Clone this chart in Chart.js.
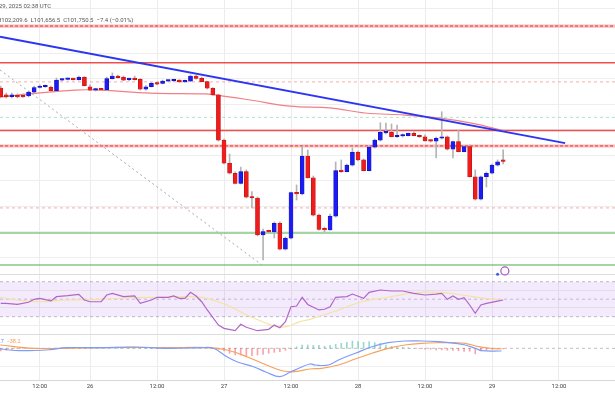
<!DOCTYPE html>
<html>
<head>
<meta charset="utf-8">
<script src="https://cdn.jsdelivr.net/npm/chart.js@4.4.1/dist/chart.umd.min.js"></script>
<style>
  html, body { margin: 0; padding: 0; background: #fff; }
  #wrap { position: relative; width: 615px; height: 410px; overflow: hidden; font-family: Roboto, "Noto Sans", sans-serif; }
  #wrap canvas { position: absolute; left: 0; top: 0; }
  .txt { position: absolute; white-space: nowrap; color: #555; line-height: 1; }
</style>
</head>
<body>
<div id="wrap">
  <canvas id="c" width="615" height="410"></canvas>
  <div class="txt" style="left:-1px;top:3px;font-size:6px">29, 2025 02:38 UTC</div>
  <div class="txt" style="left:-3px;top:17px;font-size:6px">H102,209.6&nbsp; L101,656.5&nbsp; C101,750.5&nbsp; −7.4 (−0.01%)</div>
  <div class="txt" style="left:-10px;top:339px;font-size:5.5px"><span style="color:#6f8ff0">−39.7</span>&nbsp; <span style="color:#f39a55">−38.2</span></div>
</div>
<script>
// hourly candles, first one is Jan 25 08:00 (hour -16, hour 0 = Jan 26 00:00)
const firstHour = -16;
const openP = [104630,104360,104290,104340,104340,104320,104470,104650,104680,104660,104530,104940,104970,104980,104960,105050,
  104680,104550,104570,104560,105000,105100,105050,104960,104975,104970,104580,104680,104810,104810,104900,104915,104940,104870,104900,105100,105010,104880,104620,104360,
  102590,101680,101290,100890,101350,100350,100320,98870,99000,98990,99330,98310,98740,100530,100480,101960,101110,99650,99090,99070,99610,101390,101350,101610,102110,101810,101390,102310,102590,102870,102890,102720,102750,102760,102855,102760,102720,102570,102550,102660,102720,102230,102530,102130,102330,101150,100270,101150,101290,101610,101758];
const highP = [104710,104430,104430,104400,104400,104510,104710,104750,104750,104710,105020,105000,105020,105020,105100,105080,
  104750,104610,104610,105060,105220,105140,105100,105020,105100,105000,104730,104850,104850,104940,104940,104980,104960,104940,105140,105140,105060,104900,104650,104380,
  102630,102040,101340,101530,101420,100570,100360,99100,99060,99380,99380,98790,100550,100830,102330,102200,101180,99690,99180,99690,101730,101810,101650,102280,102160,101850,102360,102630,103270,103260,103220,103180,102830,102865,102910,102790,102790,102590,102710,103700,102750,102550,102980,102360,102400,101420,101180,101340,101650,101810,102210];
const lowP = [104240,104240,104240,104240,104260,104280,104430,104630,104650,104510,104510,104920,104940,104940,104940,104710,
  104530,104510,104530,104530,104980,105020,104920,104920,104940,104550,104550,104670,104750,104790,104880,104880,104850,104850,104880,104980,104870,104590,104340,102550,
  101650,101260,100870,100870,100320,99930,98830,97890,98950,98750,98280,98280,98710,100240,100440,101100,99610,99060,98990,99060,99570,101320,101340,101570,101770,101380,101380,102280,102550,102830,102710,102690,102710,102750,102750,102690,102550,102510,101890,102630,102200,101890,102120,102120,101140,100240,100240,100750,101260,101570,101657];
const closeP = [104280,104280,104360,104280,104280,104470,104650,104710,104710,104530,104940,104970,104980,104960,105050,104720,
  104550,104570,104560,105000,105100,105040,104940,104975,104960,104580,104680,104810,104780,104900,104915,104940,104870,104900,105100,105010,104880,104620,104360,102590,
  101680,101290,100890,101350,100350,100320,98870,99000,98990,99330,98310,98740,100530,100480,101960,101110,99650,99090,99070,99610,101390,101350,101610,102110,101810,101390,102310,102590,102890,102890,102720,102750,102760,102855,102760,102720,102560,102550,102660,102720,102230,102530,102130,102330,101150,100270,101150,101290,101610,101740,101751];

// 100-hour style moving average on price
const maHours = [-16.1,-10.8,-2.7,1.8,10.8,20.6,22.4,28.7,35.8,43,49.3,56.4,62.7,68.1,74.3];
const maValues = [104280,104400,104550,104550,104430,104400,104360,104160,103920,103850,103650,103570,103450,103260,102950];

// drawn levels and lines
const redSolidLevels = [105620, 102960];
const redStrongDashLevels = [107060, 102360];
const redLightDashLevels = [104870, 99930];
const greenDashLevels = [103480];
const greenSolidLevels = [98950, 97690];
const trendHours = [-16.12, 85.1];
const trendValues = [106640, 102470];
const diagHours = [-16.12, 30.8];
const diagValues = [105340, 97690];
const markerHour = [74.3];
const markerValue = [97460];
const dotHour = [73.0];
const dotValue = [97330];

// RSI (14) and its moving average
const rsiHours = [-16,-15,-13,-11,-10,-9,-7,-6,-4,-2,-1,0,2,3,4,6,8,9,11,12,14,15,16,17,18,19,20,21,23,24,26,27,28,30,32,33,34,35,36,37,38,39,41,42,43,44,46,47,49,50,52,54,56,58,60,62,63,64,65,66,67,68,69,70,71,73,74];
const rsiValues = [45.3,45.3,44.2,46.5,49.9,51,48,52.9,54,55.6,49.1,47.1,47.1,54.8,56.7,52.9,53.7,45.3,49.1,52.2,52.2,53.7,51,51,57.9,53.7,47.1,37.7,20.5,16.7,14,21.3,17.9,14,15.6,20.5,17.4,24.3,41.4,42.2,52.2,44,37.7,38.5,41.4,52.2,52.9,55.9,51,57.9,60.5,59.4,59.4,56.7,54.8,55.9,56.7,49.9,53.7,49.9,51.7,43.4,33.9,43.4,45.3,47.9,49.1];
const rsiMaHours = [-16.1,-13.1,-9,-4.2,1.8,7.8,13.7,17.9,20.9,24.5,28.1,31.6,33.4,35.2,37.6,39.4,44.5,48.7,53.4,58.2,62.4,66.6,70.7,73.7];
const rsiMaValues = [52.2,49.1,47.1,49.1,49.9,51.7,52.2,52.9,51,43.4,31.9,22.5,18.6,18.6,24.3,27,37.7,47.1,52.2,57.4,57.9,54.8,51,49.1];
const rsiBand = [30, 50, 70];

// MACD (12, 26, 9)
const macdHours = [-16.1,-12.5,-7.2,-4.2,1.8,7.8,13.7,19.7,22.1,24.5,26.3,29.3,31.6,34,35.8,37.6,39.4,40.3,42.7,44.5,47.5,50.5,53.4,56.4,59.4,62.4,65.4,67.2,69,70.2,73.7];
const macdValues = [-14,-48,-28,12,12,26,0,12,0,-168,-268,-368,-480,-568,-480,-388,-314,-334,-334,-234,-100,32,112,146,146,132,100,66,0,-48,-54];
const signalHours = [-16.1,-10.2,1.8,7.8,13.7,20.9,24.5,28.1,31.6,34.6,36.4,39.4,41.5,44.5,47.5,50.5,53.4,56.4,59.4,62.4,65.4,67.2,69.6,71.9,73.7];
const signalValues = [66,0,12,20,12,12,-34,-168,-334,-454,-468,-414,-400,-334,-214,-100,0,66,100,112,112,100,32,0,-14];
const histValues = [-50,-40,-20,-10,0,0,0,0,0,0,0,0,0,0,0,0,
  0,0,0,0,0,0,0,0,0,0,0,0,0,0,0,0,0,0,0,0,0,0,0,-20,
  -50,-100,-130,-135,-165,-145,-135,-120,-100,-80,-65,-40,-10,30,65,66,60,60,40,60,80,100,120,146,134,120,134,114,100,66,40,20,20,10,0,-5,-15,-20,-30,-30,-40,-40,-50,-60,-60,-110,-50,-30,-20,-15,-10];

const tickHours = [-9, 0, 12, 24, 36, 48, 60, 72, 84];
const tickLabels = ['12:00', '26', '12:00', '27', '12:00', '28', '12:00', '29', '12:00'];
const priceGrid = [97300, 98000, 99000, 100000, 101000, 102000, 103000, 104000, 105000, 106000, 107000, 107750];
const rsiGrid = [9.1, 20, 40, 60];
const macdGrid = [-368];

const xMin = -16.12, xMax = 94.03;
const hours = openP.map((_, i) => firstHour + i);
const upColor = '#1b1bf2', downColor = '#f01c1c';

function level(v, color, width, dash, order) {
  return { type: 'line', data: [{ x: xMin, y: v }, { x: xMax, y: v }], borderColor: color, borderWidth: width,
    borderDash: dash || [], pointRadius: 0, yAxisID: 'y', order: order };
}
function xy(xs, ys) { return xs.map((x, i) => ({ x: x, y: ys[i] })); }

const datasets = [
  { type: 'line', data: xy(trendHours, trendValues), borderColor: '#2b35f2', borderWidth: 2, pointRadius: 0, yAxisID: 'y', order: 0 },
  { type: 'bar', data: hours.map((h, i) => ({ x: h, y: [openP[i], closeP[i]] })),
    backgroundColor: hours.map((h, i) => closeP[i] >= openP[i] ? upColor : downColor),
    borderColor: hours.map((h, i) => closeP[i] >= openP[i] ? '#1010b0' : '#b01010'), borderWidth: 0.5, borderSkipped: false,
    barThickness: 4, minBarLength: 1.5, grouped: false, yAxisID: 'y', order: 1 },
  { type: 'bar', data: hours.map((h, i) => ({ x: h, y: [lowP[i], highP[i]] })), backgroundColor: '#b4b4b4',
    barThickness: 1, grouped: false, yAxisID: 'y', order: 2 },
  { type: 'line', data: xy(maHours, maValues), borderColor: '#f27f86', borderWidth: 1.2, pointRadius: 0, tension: 0.4, yAxisID: 'y', order: 3 },
  { type: 'line', data: xy(diagHours, diagValues), borderColor: '#a8a8a8', borderWidth: 1, borderDash: [2, 3], pointRadius: 0, yAxisID: 'y', order: 4 },
  { type: 'scatter', data: xy(markerHour, markerValue), pointRadius: 4, pointStyle: 'circle', borderColor: '#b14fc8', borderWidth: 1.2,
    backgroundColor: 'rgba(255,255,255,0.9)', yAxisID: 'y', order: 0 },
  { type: 'scatter', data: xy(dotHour, dotValue), pointRadius: 1.5, borderWidth: 0, backgroundColor: '#3a5bf0', yAxisID: 'y', order: 0 },
  // RSI pane
  { type: 'line', data: xy(rsiHours, rsiValues), borderColor: '#b265c9', borderWidth: 1.2, pointRadius: 0, yAxisID: 'yR', order: 5 },
  { type: 'line', data: xy(rsiMaHours, rsiMaValues), borderColor: '#f4e3a0', borderWidth: 1.2, pointRadius: 0, tension: 0.4, yAxisID: 'yR', order: 6 },
  { type: 'line', data: [{ x: xMin, y: rsiBand[2] }, { x: xMax, y: rsiBand[2] }], borderColor: 'rgba(150,140,170,0.6)', borderWidth: 1,
    borderDash: [3, 3], pointRadius: 0, yAxisID: 'yR', order: 7 },
  { type: 'line', data: [{ x: xMin, y: rsiBand[0] }, { x: xMax, y: rsiBand[0] }], borderColor: 'rgba(150,140,170,0.6)', borderWidth: 1,
    borderDash: [3, 3], pointRadius: 0, fill: '-1', backgroundColor: 'rgba(160,90,230,0.13)', yAxisID: 'yR', order: 7 },
  { type: 'line', data: [{ x: xMin, y: rsiBand[1] }, { x: xMax, y: rsiBand[1] }], borderColor: 'rgba(150,140,170,0.5)', borderWidth: 1,
    borderDash: [3, 3], pointRadius: 0, yAxisID: 'yR', order: 7 },
  // MACD pane
  { type: 'line', data: xy(macdHours, macdValues), borderColor: '#7f9df7', borderWidth: 1.2, pointRadius: 0, tension: 0.4, yAxisID: 'yM', order: 5 },
  { type: 'line', data: xy(signalHours, signalValues), borderColor: '#f6a25e', borderWidth: 1.2, pointRadius: 0, tension: 0.4, yAxisID: 'yM', order: 5 },
  { type: 'bar', data: hours.map((h, i) => ({ x: h, y: histValues[i] })),
    backgroundColor: histValues.map(v => v >= 0 ? 'rgba(38,166,154,0.45)' : 'rgba(242,54,69,0.45)'),
    barThickness: 1, grouped: false, yAxisID: 'yM', order: 6 },
  { type: 'line', data: [{ x: xMin, y: 0 }, { x: xMax, y: 0 }], borderColor: 'rgba(150,150,150,0.6)', borderWidth: 1,
    borderDash: [3, 3], pointRadius: 0, yAxisID: 'yM', order: 8 }
];
redSolidLevels.forEach(v => datasets.push(level(v, 'rgba(240,60,60,0.9)', 1.5, null, 9)));
redStrongDashLevels.forEach(v => {
  datasets.push(level(v, 'rgba(240,60,60,0.35)', 3, null, 10));
  datasets.push(level(v, 'rgba(225,40,40,0.9)', 1, [3, 2], 9));
});
redLightDashLevels.forEach(v => datasets.push(level(v, 'rgba(240,70,70,0.45)', 1, [3, 3], 9)));
greenDashLevels.forEach(v => datasets.push(level(v, 'rgba(60,180,120,0.4)', 1, [3, 3], 9)));
greenSolidLevels.forEach(v => datasets.push(level(v, 'rgba(90,180,90,0.55)', 2, null, 9)));

function hiddenAxis(min, max, grid) {
  return {
    type: 'linear', position: 'right', min: min, max: max,
    afterBuildTicks: s => { s.ticks = grid.map(v => ({ value: v })); },
    ticks: { display: false },
    grid: { color: ctx => (ctx.tick && (ctx.tick.value === 97300 || ctx.tick.value === 9.1)) ? '#dcdcdc' : '#eeeeee', drawTicks: false },
    border: { display: false },
    afterFit: s => { s.width = 0; }
  };
}

Chart.defaults.font.family = 'Roboto, "Noto Sans", sans-serif';
new Chart(document.getElementById('c'), {
  type: 'bar',
  data: { datasets: datasets },
  options: {
    responsive: false,
    animation: false,
    layout: { padding: 0, autoPadding: false },
    plugins: { legend: { display: false }, tooltip: { enabled: false } },
    scales: {
      x: {
        type: 'linear', min: xMin, max: xMax, offset: false,
        afterBuildTicks: s => { s.ticks = tickHours.map(v => ({ value: v })); },
        ticks: { callback: (v, i) => tickLabels[i], font: { size: 6 }, color: '#444', padding: 3, maxRotation: 0, autoSkip: false },
        grid: { color: '#ececec', drawTicks: false, offset: false },
        border: { display: true, color: '#d8d8d8' },
        afterFit: s => { s.height = 30; }
      },
      y: hiddenAxis(93184, 108080, priceGrid),
      yR: hiddenAxis(-42.34, 391.94, rsiGrid),
      yM: hiddenAxis(-634, 6966, macdGrid)
    }
  }
});
</script>
</body>
</html>
